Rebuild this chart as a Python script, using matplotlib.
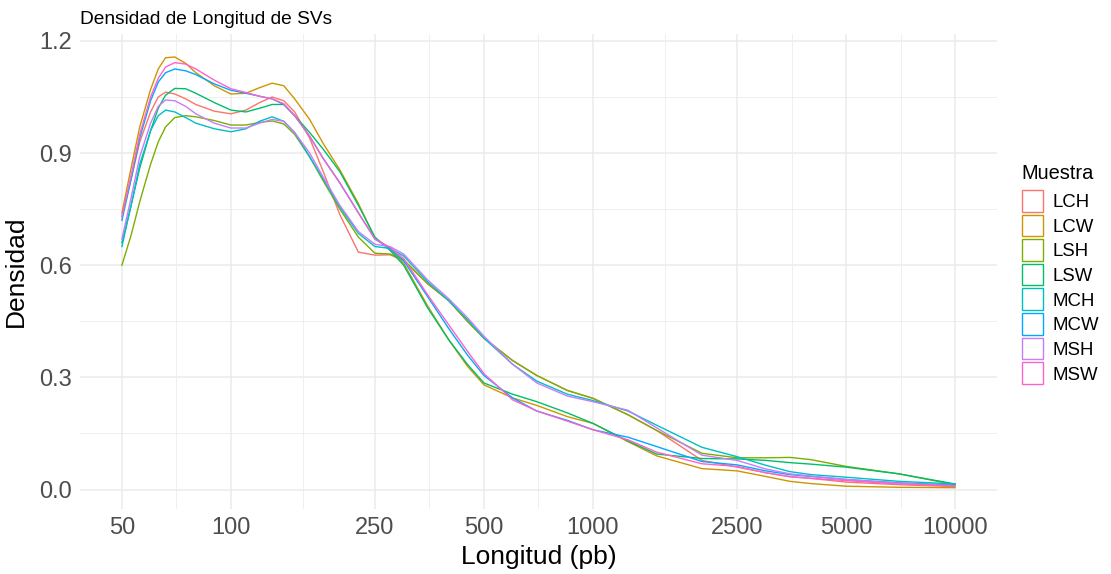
import matplotlib.pyplot as plt
from matplotlib.patches import Rectangle
import numpy as np

plt.rcParams['font.family'] = ['Liberation Sans', 'DejaVu Sans']

# Longitud (pb) where each density curve was read
longitud = [50, 53, 56, 60, 63, 66, 70, 75, 80, 90,
            100, 110, 120, 130, 140, 150, 165, 180, 200, 225,
            250, 275, 300, 350, 400, 450, 500, 600, 700, 850,
            1000, 1250, 1500, 2000, 2500, 3000, 3500, 4000, 5000, 7000,
            10000]

lch = [0.73, 0.83, 0.93, 1.01, 1.05, 1.063, 1.058, 1.045, 1.03, 1.012,
       1.005, 1.015, 1.035, 1.05, 1.04, 1.01, 0.94, 0.85, 0.735, 0.635,
       0.627, 0.628, 0.612, 0.55, 0.505, 0.45, 0.405, 0.345, 0.305, 0.265,
       0.244, 0.2, 0.158, 0.078, 0.06, 0.045, 0.035, 0.03, 0.02, 0.013,
       0.008]
lcw = [0.74, 0.86, 0.97, 1.07, 1.125, 1.155, 1.157, 1.14, 1.115, 1.08,
       1.058, 1.06, 1.075, 1.087, 1.08, 1.045, 0.99, 0.925, 0.855, 0.765,
       0.672, 0.645, 0.605, 0.49, 0.40, 0.33, 0.28, 0.245, 0.225, 0.195,
       0.177, 0.128, 0.09, 0.056, 0.05, 0.035, 0.022, 0.016, 0.009, 0.006,
       0.005]
lsh = [0.60, 0.68, 0.77, 0.87, 0.93, 0.97, 0.995, 1.0, 0.997, 0.987,
       0.975, 0.975, 0.982, 0.986, 0.978, 0.95, 0.89, 0.825, 0.75, 0.675,
       0.632, 0.63, 0.615, 0.55, 0.505, 0.45, 0.405, 0.345, 0.305, 0.265,
       0.244, 0.2, 0.158, 0.097, 0.085, 0.085, 0.086, 0.08, 0.062, 0.042,
       0.013]
lsw = [0.66, 0.76, 0.86, 0.96, 1.02, 1.055, 1.073, 1.072, 1.06, 1.035,
       1.015, 1.01, 1.02, 1.03, 1.03, 1.0, 0.955, 0.91, 0.85, 0.76,
       0.675, 0.64, 0.60, 0.485, 0.40, 0.335, 0.285, 0.255, 0.235, 0.205,
       0.177, 0.13, 0.095, 0.083, 0.082, 0.078, 0.072, 0.068, 0.06, 0.042,
       0.015]
mch = [0.65, 0.76, 0.87, 0.96, 1.0, 1.015, 1.01, 0.995, 0.98, 0.965,
       0.957, 0.965, 0.985, 0.997, 0.985, 0.955, 0.89, 0.83, 0.755, 0.685,
       0.65, 0.645, 0.625, 0.555, 0.505, 0.455, 0.405, 0.335, 0.29, 0.255,
       0.238, 0.21, 0.172, 0.113, 0.088, 0.065, 0.048, 0.04, 0.033, 0.022,
       0.015]
mcw = [0.72, 0.83, 0.94, 1.04, 1.09, 1.115, 1.125, 1.12, 1.11, 1.085,
       1.068, 1.06, 1.052, 1.045, 1.03, 1.0, 0.945, 0.885, 0.82, 0.74,
       0.67, 0.645, 0.612, 0.515, 0.43, 0.36, 0.305, 0.245, 0.21, 0.185,
       0.16, 0.14, 0.115, 0.075, 0.066, 0.05, 0.04, 0.035, 0.027, 0.018,
       0.012]
msh = [0.67, 0.78, 0.89, 0.98, 1.025, 1.042, 1.04, 1.025, 1.005, 0.98,
       0.967, 0.967, 0.98, 0.99, 0.985, 0.955, 0.9, 0.835, 0.76, 0.69,
       0.656, 0.65, 0.63, 0.56, 0.51, 0.46, 0.41, 0.335, 0.285, 0.25,
       0.235, 0.212, 0.165, 0.092, 0.078, 0.055, 0.042, 0.036, 0.027, 0.017,
       0.01]
msw = [0.73, 0.84, 0.95, 1.05, 1.10, 1.13, 1.142, 1.138, 1.125, 1.095,
       1.072, 1.062, 1.052, 1.045, 1.032, 1.0, 0.945, 0.885, 0.82, 0.74,
       0.67, 0.648, 0.618, 0.52, 0.44, 0.37, 0.31, 0.24, 0.21, 0.183,
       0.16, 0.133, 0.10, 0.069, 0.062, 0.045, 0.034, 0.03, 0.024, 0.015,
       0.01]

muestras = ['LCH', 'LCW', 'LSH', 'LSW', 'MCH', 'MCW', 'MSH', 'MSW']
densidades = [lch, lcw, lsh, lsw, mch, mcw, msh, msw]
colores = ['#F8766D', '#CD9600', '#7CAE00', '#00BE67',
           '#00BFC4', '#00A9FF', '#C77CFF', '#FF61CC']

x_breaks = [50, 100, 250, 500, 1000, 2500, 5000, 10000]
y_breaks = [0.0, 0.3, 0.6, 0.9, 1.2]

W, H = 1111, 574
fig = plt.figure(figsize=(W / 100, H / 100), dpi=100)
ax = fig.add_axes([80 / W, 65 / H, 917 / W, 475 / H])

for nombre, dens, col in zip(muestras, densidades, colores):
    ax.plot(longitud, dens, color=col, lw=1.0, label=nombre)

ax.set_xscale('log')
ax.set_xlim(38.3, 13060)
ax.set_ylim(-0.052, 1.2185)

# major / minor grid like theme_minimal
lx = np.log10(x_breaks)
minor_x = 10 ** ((lx[:-1] + lx[1:]) / 2)
minor_y = [0.15, 0.45, 0.75, 1.05]
ax.set_xticks(x_breaks)
ax.set_xticklabels([str(b) for b in x_breaks])
ax.set_xticks(minor_x, minor=True)
ax.set_xticklabels([], minor=True)
ax.set_yticks(y_breaks)
ax.set_yticklabels(['%.1f' % b for b in y_breaks])
ax.set_yticks(minor_y, minor=True)
ax.grid(True, which='major', color='#EBEBEB', lw=1.1)
ax.grid(True, which='minor', color='#EBEBEB', lw=0.55)
ax.set_axisbelow(True)
for s in ax.spines.values():
    s.set_visible(False)
ax.tick_params(which='both', length=0)
ax.tick_params(axis='both', labelsize=17, labelcolor='#4D4D4D', pad=6)

ax.set_xlabel('Longitud (pb)', fontsize=19, labelpad=4)
ax.set_ylabel('Densidad', fontsize=19, labelpad=8)

fig.text(80 / W, 1 - 24 / H, 'Densidad de Longitud de SVs',
         fontsize=13.8, va='baseline', ha='left')

# legend: outlined keys, drawn in figure pixels
fig.text(1021 / W, 1 - 179 / H, 'Muestra', fontsize=14.4,
         va='baseline', ha='left')
for i, (nombre, col) in enumerate(zip(muestras, colores)):
    top = 190 + i * 24.6
    fig.add_artist(Rectangle((1022 / W, 1 - (top + 21.6) / H), 21.3 / W, 21.6 / H,
                             transform=fig.transFigure, facecolor='white',
                             edgecolor=col, lw=1.0))
    fig.text(1053 / W, 1 - (top + 10.8) / H, nombre, fontsize=13.4,
             va='center_baseline', ha='left')

fig.savefig('out.png', dpi=100, facecolor='white')
